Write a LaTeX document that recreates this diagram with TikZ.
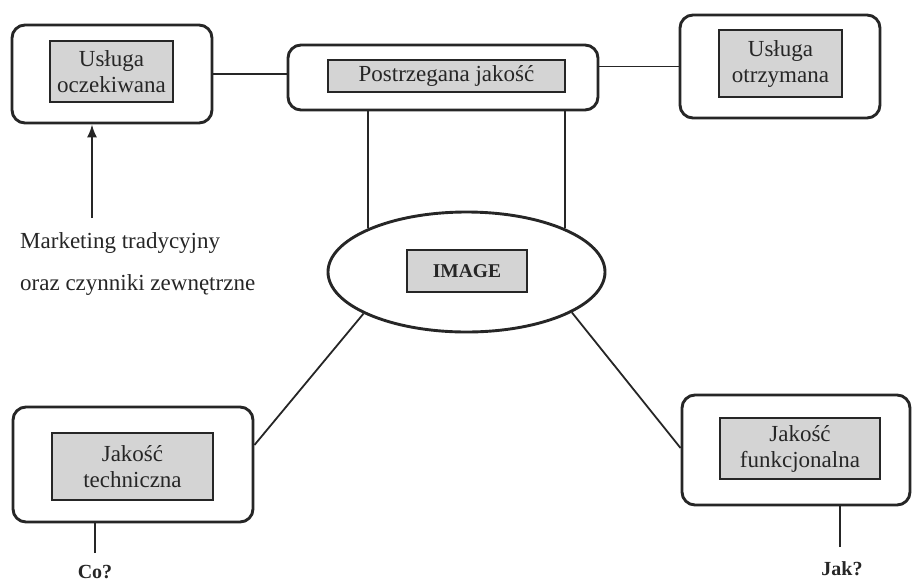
\documentclass[tikz,border=0pt]{standalone}
\usepackage{fontspec}
\setmainfont{Liberation Serif}
\usetikzlibrary{arrows.meta,shapes.geometric}
\begin{document}
\begin{tikzpicture}[x=1pt,y=-1pt,
 outer/.style={draw=black!85, line width=2.9pt, rounded corners=13pt, inner sep=0pt},
 inner/.style={draw=black!85, line width=2.8pt, fill=black!17, inner sep=0pt, align=center, text=black!85, font=\fontsize{23}{26}\selectfont},
 conn/.style={draw=black!85, line width=1.8pt},
 lab/.style={font=\fontsize{23}{26}\selectfont, inner sep=0pt, text=black!85},
 blab/.style={font=\fontsize{20}{24}\selectfont\bfseries, inner sep=0pt, text=black!85}]
\useasboundingbox (0,0) rectangle (914,582);
% top row
\node[outer, minimum width=200pt, minimum height=98pt] (ul) at (112,74) {};
\node[inner, minimum width=123pt, minimum height=61pt] (uli) at (111.5,71.5) {Usługa\\oczekiwana};
\node[outer, minimum width=310pt, minimum height=65pt] (mid) at (443,77.5) {};
\node[inner, minimum width=237pt, minimum height=32pt] (midi) at (446.5,76) {Postrzegana jakość};
\node[outer, minimum width=200pt, minimum height=103pt] (ur) at (780,66.5) {};
\node[inner, minimum width=123pt, minimum height=67pt] (uri) at (780.5,63.5) {Usługa\\otrzymana};
% ellipse
\node[ellipse, draw=black!85, line width=2.9pt, minimum width=277pt, minimum height=120pt, inner sep=0pt] (img) at (466.5,272) {};
\node[inner, minimum width=120pt, minimum height=42pt, font=\fontsize{19.5}{22}\selectfont\bfseries] (imgi) at (467,271) {IMAGE};
% bottom row
\node[outer, minimum width=240pt, minimum height=115pt] (tech) at (133,464.5) {};
\node[inner, minimum width=161pt, minimum height=67pt] (techi) at (132.5,466.5) {Jakość\\techniczna};
\node[outer, minimum width=228pt, minimum height=110pt] (func) at (796,450) {};
\node[inner, minimum width=160pt, minimum height=61pt] (funci) at (800,448.5) {Jakość\\funkcjonalna};
% labels
\node[lab, anchor=west] (mk1) at (20,243) {Marketing tradycyjny};
\node[lab, anchor=west] (mk2) at (20,285) {oraz czynniki zewnętrzne};
\node[blab] (co) at (95,572) {Co?};
\node[blab] (jak) at (842,569) {Jak?};
\coordinate (mka) at (92,218);
\coordinate (cotop) at (95,553);
\coordinate (jaktop) at (840,547);
% connectors
\draw[conn] (ul.east) -- (ul.east -| mid.west);
\draw[conn] (ur.west) -- (ur.west -| mid.east);
\draw[conn] (img.156.8) -- (img.156.8 |- mid.south);
\draw[conn] (img.24) -- (img.24 |- mid.south);
\draw[conn] (img.202) -- ([yshift=19.5pt]tech.east);
\draw[conn] (img.-21) -- ([yshift=2pt]func.west);
\draw[conn, -{Latex[length=13pt,width=10pt]}] (mka) -- (mka |- ul.south);
\draw[conn] (cotop) -- (cotop |- tech.south);
\draw[conn] (jaktop) -- (jaktop |- func.south);
\end{tikzpicture}
\end{document}
